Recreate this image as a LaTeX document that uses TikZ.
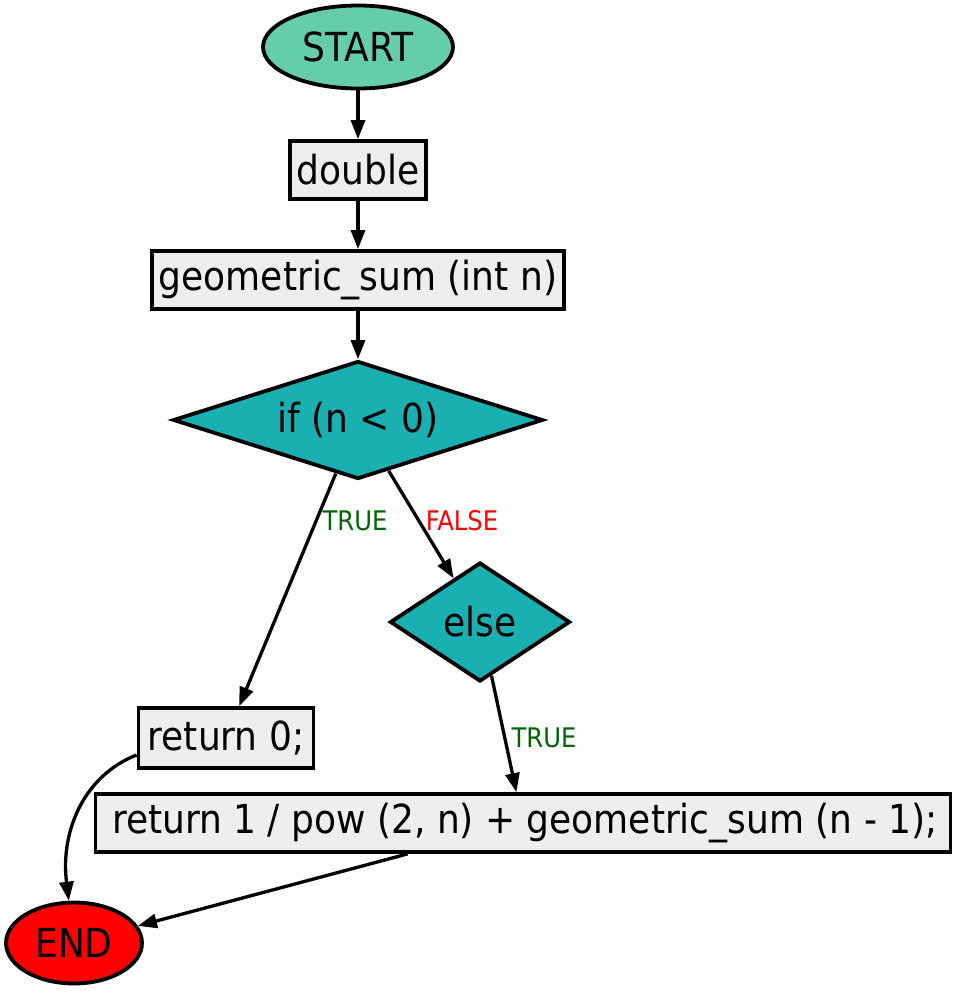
\documentclass[tikz,border=0pt]{standalone}
\usepackage{fontspec}
\setmainfont{DejaVu Sans Condensed}
\usetikzlibrary{shapes.geometric,arrows.meta}
\definecolor{startc}{HTML}{66CDAA}
\definecolor{condc}{HTML}{1AAFB0}
\definecolor{boxc}{HTML}{EEEEEE}
\definecolor{truec}{HTML}{006400}
\begin{document}
\begin{tikzpicture}[x=1pt,y=-1pt,
  base/.style={draw=black,line width=3.8pt,font=\fontsize{40}{45}\selectfont,inner sep=0pt},
  term/.style={base,ellipse},
  procbox/.style={base,rectangle,fill=boxc},
  cond/.style={base,diamond,fill=condc},
  edge/.style={line width=3.3pt,-{Triangle[length=19pt,width=14pt]}},
  lbl/.style={font=\fontsize{27}{30}\selectfont,inner sep=0pt}]
\useasboundingbox (0,0) rectangle (957,994);
\node[term,fill=startc,minimum width=190pt,minimum height=83pt] (start) at (358,47) {START};
\node[procbox,minimum width=136pt,minimum height=58pt] (dbl) at (358,170) {double};
\node[procbox,minimum width=412pt,minimum height=58pt] (geo) at (358,280) {geometric\_sum (int n)};
\node[cond,aspect=3.1,minimum width=370pt,minimum height=118pt] (if) at (358,420) {if (n < 0)};
\node[cond,aspect=1.5,minimum width=180pt,minimum height=119pt] (else) at (480,622) {else};
\node[procbox,minimum width=175pt,minimum height=60pt] (r0) at (226,738) {return 0;};
\node[procbox,minimum width=855pt,minimum height=58pt] (r1) at (523,823) {\hspace*{4pt}return 1 / pow (2, n) + geometric\_sum (n - 1);};
\node[term,fill=red,minimum width=136pt,minimum height=81pt] (end) at (74,943) {END};
\draw[edge] (start) -- (dbl);
\draw[edge] (dbl) -- (geo);
\draw[edge] (geo) -- (if);
\draw[edge] (if) -- (r0);
\draw[edge] (if) -- (else);
\draw[edge] (else) -- (r1);
\draw[edge] (r1) -- (end);
\draw[edge] ([yshift=-17pt]r0.west) .. controls (85,775) and (60,830) .. (end.97);
\node[lbl,text=truec] (t1) at (355,521) {TRUE};
\node[lbl,text=red] (f1) at (462,521) {FALSE};
\node[lbl,text=truec] (t2) at (544,738) {TRUE};
\end{tikzpicture}
\end{document}
